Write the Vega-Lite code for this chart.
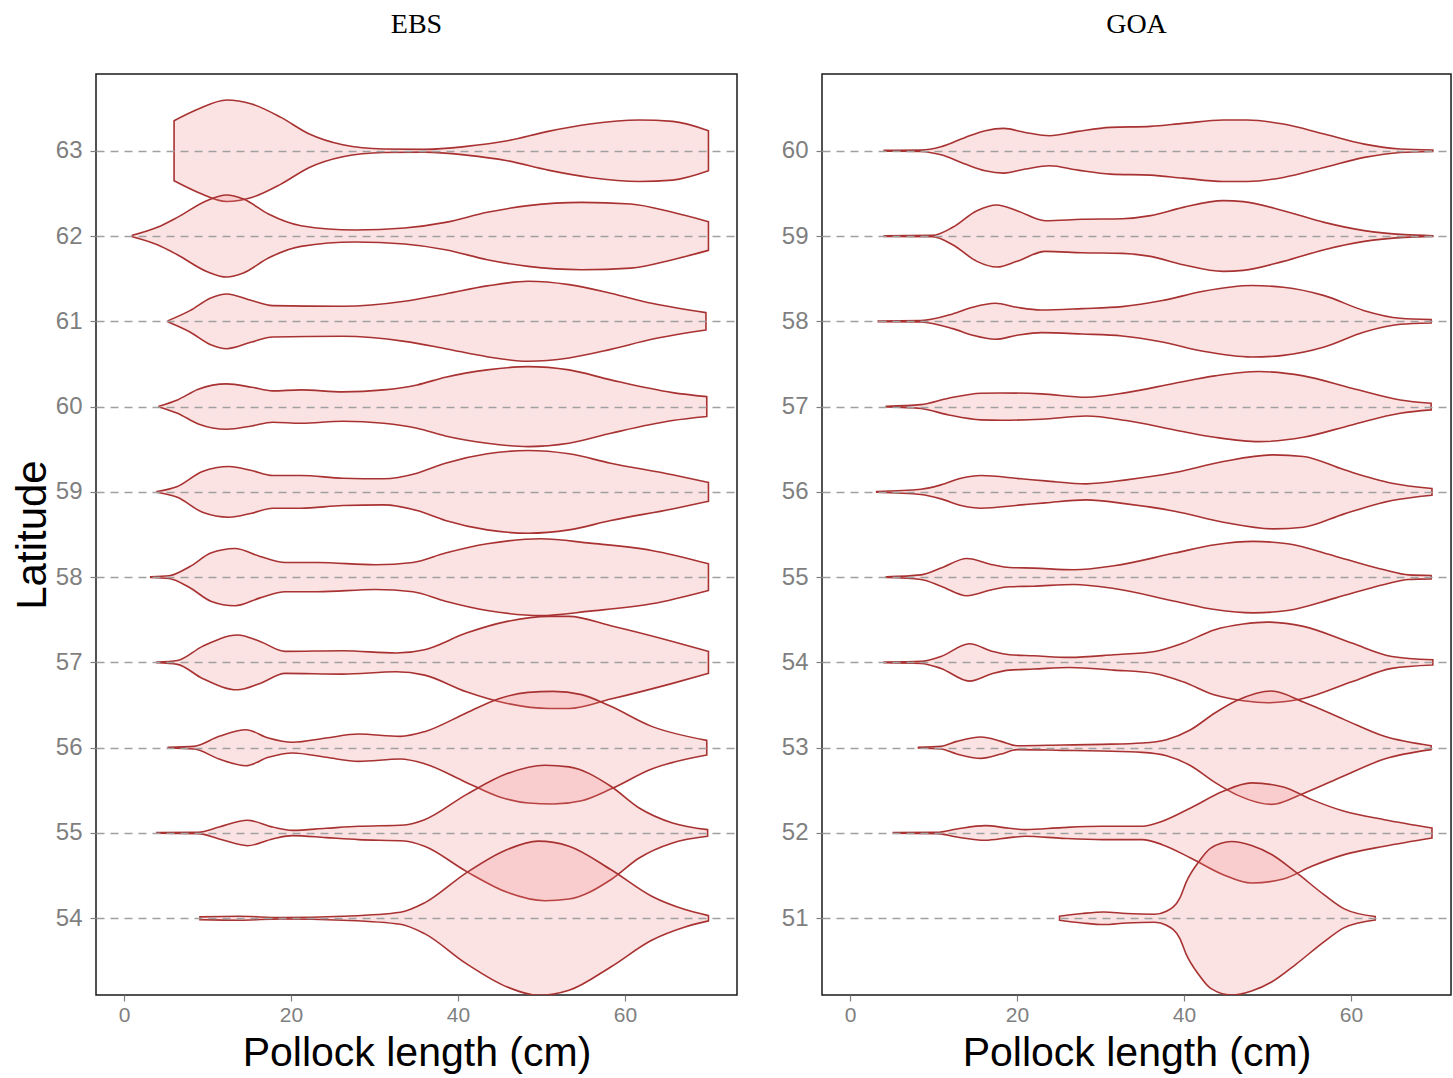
{
  "$schema": "https://vega.github.io/schema/vega-lite/v6.json",
  "background": "white",
  "padding": {"left": 10, "top": 10, "right": 0, "bottom": 0},
  "spacing": 42,
  "config": {
    "view": {"stroke": "#1a1a1a", "strokeWidth": 1.5},
    "font": "Liberation Sans",
    "axis": {
      "labelFont": "Liberation Sans", "labelFontSize": 24, "labelColor": "#7f7f7f",
      "tickColor": "#7f7f7f", "tickSize": 6, "tickWidth": 1.2, "labelPadding": 6,
      "titleFont": "Liberation Sans", "titleFontSize": 42, "titleFontWeight": "normal", "titleColor": "#000000",
      "domain": false
    },
    "axisX": {"labelFontSize": 21, "labelPadding": 3, "titlePadding": 8, "titleFontSize": 41},
    "title": {"font": "Liberation Serif", "fontSize": 28, "fontWeight": "normal", "color": "#000000", "offset": 35, "anchor": "middle"}
  },
  "datasets": {
    "ebs": [
      {"lat":63,"x":6.0,"lo":62.648,"hi":63.352},{"lat":63,"x":8.9,"lo":62.511,"hi":63.489},{"lat":63,"x":12.3,"lo":62.405,"hi":63.595},{"lat":63,"x":15.3,"lo":62.452,"hi":63.548},{"lat":63,"x":18.8,"lo":62.609,"hi":63.391},{"lat":63,"x":22.2,"lo":62.804,"hi":63.196},{"lat":63,"x":26.2,"lo":62.930,"hi":63.070},{"lat":63,"x":31.1,"lo":62.980,"hi":63.020},{"lat":63,"x":36.0,"lo":62.984,"hi":63.016},{"lat":63,"x":41.0,"lo":62.949,"hi":63.051},{"lat":63,"x":45.9,"lo":62.883,"hi":63.117},{"lat":63,"x":50.8,"lo":62.773,"hi":63.227},{"lat":63,"x":55.8,"lo":62.687,"hi":63.313},{"lat":63,"x":61.7,"lo":62.640,"hi":63.360},{"lat":63,"x":65.7,"lo":62.656,"hi":63.344},{"lat":63,"x":70.0,"lo":62.765,"hi":63.235},
      {"lat":62,"x":1.0,"lo":61.992,"hi":62.008},{"lat":62,"x":4.0,"lo":61.898,"hi":62.102},{"lat":62,"x":6.4,"lo":61.781,"hi":62.219},{"lat":62,"x":9.9,"lo":61.585,"hi":62.415},{"lat":62,"x":12.3,"lo":61.519,"hi":62.481},{"lat":62,"x":14.3,"lo":61.566,"hi":62.434},{"lat":62,"x":17.3,"lo":61.742,"hi":62.258},{"lat":62,"x":21.2,"lo":61.879,"hi":62.121},{"lat":62,"x":27.7,"lo":61.930,"hi":62.070},{"lat":62,"x":33.6,"lo":61.906,"hi":62.094},{"lat":62,"x":38.5,"lo":61.840,"hi":62.160},{"lat":62,"x":43.5,"lo":61.722,"hi":62.278},{"lat":62,"x":48.4,"lo":61.644,"hi":62.356},{"lat":62,"x":54.8,"lo":61.605,"hi":62.395},{"lat":62,"x":60.7,"lo":61.624,"hi":62.376},{"lat":62,"x":65.7,"lo":61.722,"hi":62.278},{"lat":62,"x":70.0,"lo":61.832,"hi":62.168},
      {"lat":61,"x":5.3,"lo":60.992,"hi":61.008},{"lat":61,"x":7.9,"lo":60.875,"hi":61.125},{"lat":61,"x":10.4,"lo":60.726,"hi":61.274},{"lat":61,"x":12.3,"lo":60.679,"hi":61.321},{"lat":61,"x":15.3,"lo":60.757,"hi":61.243},{"lat":61,"x":17.8,"lo":60.816,"hi":61.184},{"lat":61,"x":26.2,"lo":60.824,"hi":61.176},{"lat":61,"x":33.6,"lo":60.765,"hi":61.235},{"lat":61,"x":38.5,"lo":60.679,"hi":61.321},{"lat":61,"x":43.5,"lo":60.585,"hi":61.415},{"lat":61,"x":48.4,"lo":60.531,"hi":61.469},{"lat":61,"x":53.3,"lo":60.570,"hi":61.430},{"lat":61,"x":58.3,"lo":60.671,"hi":61.329},{"lat":61,"x":63.2,"lo":60.789,"hi":61.211},{"lat":61,"x":69.7,"lo":60.898,"hi":61.102},
      {"lat":60,"x":4.2,"lo":59.996,"hi":60.004},{"lat":60,"x":6.4,"lo":59.922,"hi":60.078},{"lat":60,"x":8.9,"lo":59.797,"hi":60.203},{"lat":60,"x":12.3,"lo":59.734,"hi":60.266},{"lat":60,"x":15.3,"lo":59.773,"hi":60.227},{"lat":60,"x":17.8,"lo":59.816,"hi":60.184},{"lat":60,"x":21.2,"lo":59.804,"hi":60.196},{"lat":60,"x":26.2,"lo":59.828,"hi":60.172},{"lat":60,"x":31.1,"lo":59.804,"hi":60.196},{"lat":60,"x":35.1,"lo":59.746,"hi":60.254},{"lat":60,"x":38.5,"lo":59.656,"hi":60.344},{"lat":60,"x":43.5,"lo":59.570,"hi":60.430},{"lat":60,"x":48.4,"lo":59.531,"hi":60.469},{"lat":60,"x":53.3,"lo":59.570,"hi":60.430},{"lat":60,"x":58.3,"lo":59.687,"hi":60.313},{"lat":60,"x":65.7,"lo":59.836,"hi":60.164},{"lat":60,"x":69.8,"lo":59.883,"hi":60.117},
      {"lat":59,"x":3.95,"lo":58.996,"hi":59.004},{"lat":59,"x":6.4,"lo":58.937,"hi":59.063},{"lat":59,"x":9.4,"lo":58.761,"hi":59.239},{"lat":59,"x":12.6,"lo":58.703,"hi":59.297},{"lat":59,"x":15.3,"lo":58.750,"hi":59.250},{"lat":59,"x":17.8,"lo":58.808,"hi":59.192},{"lat":59,"x":21.2,"lo":58.808,"hi":59.192},{"lat":59,"x":26.2,"lo":58.840,"hi":59.160},{"lat":59,"x":31.1,"lo":58.847,"hi":59.153},{"lat":59,"x":35.1,"lo":58.781,"hi":59.219},{"lat":59,"x":38.5,"lo":58.664,"hi":59.336},{"lat":59,"x":43.5,"lo":58.554,"hi":59.446},{"lat":59,"x":48.4,"lo":58.515,"hi":59.485},{"lat":59,"x":53.3,"lo":58.554,"hi":59.446},{"lat":59,"x":58.3,"lo":58.664,"hi":59.336},{"lat":59,"x":65.7,"lo":58.800,"hi":59.200},{"lat":59,"x":70.0,"lo":58.890,"hi":59.110},
      {"lat":58,"x":3.2,"lo":57.996,"hi":58.004},{"lat":58,"x":5.4,"lo":57.984,"hi":58.016},{"lat":58,"x":7.9,"lo":57.875,"hi":58.125},{"lat":58,"x":10.4,"lo":57.718,"hi":58.282},{"lat":58,"x":13.3,"lo":57.664,"hi":58.336},{"lat":58,"x":16.3,"lo":57.757,"hi":58.243},{"lat":58,"x":19.3,"lo":57.828,"hi":58.172},{"lat":58,"x":23.2,"lo":57.828,"hi":58.172},{"lat":58,"x":30.1,"lo":57.855,"hi":58.145},{"lat":58,"x":34.6,"lo":57.828,"hi":58.172},{"lat":58,"x":38.5,"lo":57.718,"hi":58.282},{"lat":58,"x":43.5,"lo":57.609,"hi":58.391},{"lat":58,"x":49.9,"lo":57.550,"hi":58.450},{"lat":58,"x":55.8,"lo":57.601,"hi":58.399},{"lat":58,"x":63.2,"lo":57.687,"hi":58.313},{"lat":58,"x":70.0,"lo":57.844,"hi":58.156},
      {"lat":57,"x":3.95,"lo":56.996,"hi":57.004},{"lat":57,"x":6.4,"lo":56.977,"hi":57.023},{"lat":57,"x":9.4,"lo":56.812,"hi":57.188},{"lat":57,"x":13.6,"lo":56.679,"hi":57.321},{"lat":57,"x":16.3,"lo":56.754,"hi":57.246},{"lat":57,"x":19.3,"lo":56.871,"hi":57.129},{"lat":57,"x":26.2,"lo":56.863,"hi":57.137},{"lat":57,"x":32.6,"lo":56.890,"hi":57.110},{"lat":57,"x":36.0,"lo":56.851,"hi":57.149},{"lat":57,"x":41.0,"lo":56.656,"hi":57.344},{"lat":57,"x":45.9,"lo":56.519,"hi":57.481},{"lat":57,"x":50.9,"lo":56.460,"hi":57.540},{"lat":57,"x":53.3,"lo":56.460,"hi":57.540},{"lat":57,"x":58.3,"lo":56.570,"hi":57.430},{"lat":57,"x":65.7,"lo":56.754,"hi":57.246},{"lat":57,"x":70.0,"lo":56.871,"hi":57.129},
      {"lat":56,"x":5.3,"lo":55.996,"hi":56.004},{"lat":56,"x":8.4,"lo":55.984,"hi":56.016},{"lat":56,"x":11.4,"lo":55.867,"hi":56.133},{"lat":56,"x":14.6,"lo":55.789,"hi":56.211},{"lat":56,"x":17.3,"lo":55.887,"hi":56.113},{"lat":56,"x":20.2,"lo":55.937,"hi":56.063},{"lat":56,"x":24.2,"lo":55.887,"hi":56.113},{"lat":56,"x":28.1,"lo":55.840,"hi":56.160},{"lat":56,"x":33.1,"lo":55.867,"hi":56.133},{"lat":56,"x":36.0,"lo":55.812,"hi":56.188},{"lat":56,"x":41.0,"lo":55.593,"hi":56.407},{"lat":56,"x":44.9,"lo":55.425,"hi":56.575},{"lat":56,"x":48.4,"lo":55.351,"hi":56.649},{"lat":56,"x":51.4,"lo":55.339,"hi":56.661},{"lat":56,"x":54.8,"lo":55.378,"hi":56.622},{"lat":56,"x":58.3,"lo":55.515,"hi":56.485},{"lat":56,"x":63.2,"lo":55.750,"hi":56.250},{"lat":56,"x":69.8,"lo":55.914,"hi":56.086},
      {"lat":55,"x":3.95,"lo":54.996,"hi":55.004},{"lat":55,"x":8.9,"lo":54.992,"hi":55.008},{"lat":55,"x":11.4,"lo":54.930,"hi":55.070},{"lat":55,"x":14.8,"lo":54.851,"hi":55.149},{"lat":55,"x":17.8,"lo":54.930,"hi":55.070},{"lat":55,"x":20.2,"lo":54.969,"hi":55.031},{"lat":55,"x":24.2,"lo":54.945,"hi":55.055},{"lat":55,"x":28.1,"lo":54.922,"hi":55.078},{"lat":55,"x":33.6,"lo":54.906,"hi":55.094},{"lat":55,"x":36.0,"lo":54.844,"hi":55.156},{"lat":55,"x":41.0,"lo":54.550,"hi":55.450},{"lat":55,"x":45.9,"lo":54.304,"hi":55.696},{"lat":55,"x":50.4,"lo":54.206,"hi":55.794},{"lat":55,"x":53.3,"lo":54.225,"hi":55.775},{"lat":55,"x":58.3,"lo":54.452,"hi":55.548},{"lat":55,"x":61.7,"lo":54.707,"hi":55.293},{"lat":55,"x":65.7,"lo":54.883,"hi":55.117},{"lat":55,"x":69.9,"lo":54.961,"hi":55.039},
      {"lat":54,"x":9.1,"lo":53.984,"hi":54.016},{"lat":54,"x":13.8,"lo":53.977,"hi":54.023},{"lat":54,"x":18.8,"lo":53.992,"hi":54.008},{"lat":54,"x":26.2,"lo":53.977,"hi":54.023},{"lat":54,"x":33.1,"lo":53.930,"hi":54.070},{"lat":54,"x":36.0,"lo":53.820,"hi":54.180},{"lat":54,"x":41.0,"lo":53.468,"hi":54.532},{"lat":54,"x":45.9,"lo":53.194,"hi":54.806},{"lat":54,"x":49.6,"lo":53.096,"hi":54.904},{"lat":54,"x":53.3,"lo":53.155,"hi":54.845},{"lat":54,"x":58.3,"lo":53.429,"hi":54.571},{"lat":54,"x":63.2,"lo":53.742,"hi":54.258},{"lat":54,"x":67.2,"lo":53.898,"hi":54.102},{"lat":54,"x":70.0,"lo":53.969,"hi":54.031}
    ],
    "goa": [
      {"lat":60,"x":4.1,"lo":59.996,"hi":60.004},{"lat":60,"x":8.5,"lo":59.992,"hi":60.008},{"lat":60,"x":10.9,"lo":59.953,"hi":60.047},{"lat":60,"x":13.8,"lo":59.844,"hi":60.156},{"lat":60,"x":16.2,"lo":59.765,"hi":60.235},{"lat":60,"x":18.4,"lo":59.738,"hi":60.262},{"lat":60,"x":21.0,"lo":59.785,"hi":60.215},{"lat":60,"x":23.9,"lo":59.824,"hi":60.176},{"lat":60,"x":27.3,"lo":59.773,"hi":60.227},{"lat":60,"x":31.2,"lo":59.726,"hi":60.274},{"lat":60,"x":36.0,"lo":59.714,"hi":60.286},{"lat":60,"x":39.9,"lo":59.679,"hi":60.321},{"lat":60,"x":44.7,"lo":59.640,"hi":60.360},{"lat":60,"x":47.6,"lo":59.640,"hi":60.360},{"lat":60,"x":51.9,"lo":59.687,"hi":60.313},{"lat":60,"x":56.8,"lo":59.804,"hi":60.196},{"lat":60,"x":61.6,"lo":59.922,"hi":60.078},{"lat":60,"x":65.9,"lo":59.980,"hi":60.020},{"lat":60,"x":69.8,"lo":59.992,"hi":60.008},
      {"lat":59,"x":4.1,"lo":58.996,"hi":59.004},{"lat":59,"x":9.9,"lo":58.992,"hi":59.008},{"lat":59,"x":12.3,"lo":58.898,"hi":59.102},{"lat":59,"x":15.2,"lo":58.703,"hi":59.297},{"lat":59,"x":17.6,"lo":58.636,"hi":59.364},{"lat":59,"x":20.0,"lo":58.703,"hi":59.297},{"lat":59,"x":23.4,"lo":58.820,"hi":59.180},{"lat":59,"x":27.8,"lo":58.804,"hi":59.196},{"lat":59,"x":32.6,"lo":58.797,"hi":59.203},{"lat":59,"x":36.0,"lo":58.761,"hi":59.239},{"lat":59,"x":39.9,"lo":58.664,"hi":59.336},{"lat":59,"x":44.7,"lo":58.585,"hi":59.415},{"lat":59,"x":47.1,"lo":58.597,"hi":59.403},{"lat":59,"x":51.9,"lo":58.703,"hi":59.297},{"lat":59,"x":56.8,"lo":58.840,"hi":59.160},{"lat":59,"x":61.6,"lo":58.937,"hi":59.063},{"lat":59,"x":66.4,"lo":58.984,"hi":59.016},{"lat":59,"x":69.8,"lo":58.996,"hi":59.004},
      {"lat":58,"x":3.4,"lo":57.996,"hi":58.004},{"lat":58,"x":8.5,"lo":57.992,"hi":58.008},{"lat":58,"x":12.3,"lo":57.914,"hi":58.086},{"lat":58,"x":14.7,"lo":57.836,"hi":58.164},{"lat":58,"x":17.4,"lo":57.789,"hi":58.211},{"lat":58,"x":20.0,"lo":57.836,"hi":58.164},{"lat":58,"x":22.9,"lo":57.867,"hi":58.133},{"lat":58,"x":27.8,"lo":57.851,"hi":58.149},{"lat":58,"x":32.6,"lo":57.828,"hi":58.172},{"lat":58,"x":37.4,"lo":57.757,"hi":58.243},{"lat":58,"x":42.3,"lo":57.648,"hi":58.352},{"lat":58,"x":48.1,"lo":57.581,"hi":58.419},{"lat":58,"x":51.9,"lo":57.601,"hi":58.399},{"lat":58,"x":56.8,"lo":57.699,"hi":58.301},{"lat":58,"x":61.6,"lo":57.875,"hi":58.125},{"lat":58,"x":65.9,"lo":57.965,"hi":58.035},{"lat":58,"x":69.6,"lo":57.980,"hi":58.020},
      {"lat":57,"x":4.35,"lo":56.996,"hi":57.004},{"lat":57,"x":8.5,"lo":56.977,"hi":57.023},{"lat":57,"x":11.8,"lo":56.902,"hi":57.098},{"lat":57,"x":15.7,"lo":56.844,"hi":57.156},{"lat":57,"x":18.1,"lo":56.840,"hi":57.160},{"lat":57,"x":22.9,"lo":56.851,"hi":57.149},{"lat":57,"x":28.3,"lo":56.890,"hi":57.110},{"lat":57,"x":33.1,"lo":56.836,"hi":57.164},{"lat":57,"x":38.9,"lo":56.726,"hi":57.274},{"lat":57,"x":43.7,"lo":56.640,"hi":57.360},{"lat":57,"x":49.0,"lo":56.589,"hi":57.411},{"lat":57,"x":54.3,"lo":56.640,"hi":57.360},{"lat":57,"x":60.1,"lo":56.785,"hi":57.215},{"lat":57,"x":65.9,"lo":56.922,"hi":57.078},{"lat":57,"x":69.6,"lo":56.961,"hi":57.039},
      {"lat":56,"x":3.2,"lo":55.996,"hi":56.004},{"lat":56,"x":8.5,"lo":55.969,"hi":56.031},{"lat":56,"x":10.9,"lo":55.918,"hi":56.082},{"lat":56,"x":13.3,"lo":55.840,"hi":56.160},{"lat":56,"x":15.7,"lo":55.808,"hi":56.192},{"lat":56,"x":20.5,"lo":55.847,"hi":56.153},{"lat":56,"x":23.4,"lo":55.871,"hi":56.129},{"lat":56,"x":28.3,"lo":55.906,"hi":56.094},{"lat":56,"x":33.1,"lo":55.859,"hi":56.141},{"lat":56,"x":38.9,"lo":55.773,"hi":56.227},{"lat":56,"x":44.7,"lo":55.644,"hi":56.356},{"lat":56,"x":50.7,"lo":55.566,"hi":56.434},{"lat":56,"x":54.3,"lo":55.585,"hi":56.415},{"lat":56,"x":59.2,"lo":55.742,"hi":56.258},{"lat":56,"x":64.9,"lo":55.898,"hi":56.102},{"lat":56,"x":69.7,"lo":55.961,"hi":56.039},
      {"lat":55,"x":4.35,"lo":54.996,"hi":55.004},{"lat":55,"x":8.5,"lo":54.973,"hi":55.027},{"lat":55,"x":10.9,"lo":54.894,"hi":55.106},{"lat":55,"x":14.0,"lo":54.781,"hi":55.219},{"lat":55,"x":17.1,"lo":54.855,"hi":55.145},{"lat":55,"x":19.1,"lo":54.887,"hi":55.113},{"lat":55,"x":22.0,"lo":54.894,"hi":55.106},{"lat":55,"x":26.8,"lo":54.914,"hi":55.086},{"lat":55,"x":31.6,"lo":54.867,"hi":55.133},{"lat":55,"x":38.9,"lo":54.718,"hi":55.282},{"lat":55,"x":43.7,"lo":54.620,"hi":55.380},{"lat":55,"x":48.3,"lo":54.581,"hi":55.419},{"lat":55,"x":52.4,"lo":54.609,"hi":55.391},{"lat":55,"x":58.2,"lo":54.757,"hi":55.243},{"lat":55,"x":64.0,"lo":54.914,"hi":55.086},{"lat":55,"x":66.9,"lo":54.973,"hi":55.027},{"lat":55,"x":69.6,"lo":54.980,"hi":55.020},
      {"lat":54,"x":4.1,"lo":53.996,"hi":54.004},{"lat":54,"x":8.5,"lo":53.988,"hi":54.012},{"lat":54,"x":10.9,"lo":53.930,"hi":54.070},{"lat":54,"x":14.3,"lo":53.781,"hi":54.219},{"lat":54,"x":17.1,"lo":53.871,"hi":54.129},{"lat":54,"x":19.1,"lo":53.910,"hi":54.090},{"lat":54,"x":22.0,"lo":53.922,"hi":54.078},{"lat":54,"x":26.3,"lo":53.941,"hi":54.059},{"lat":54,"x":31.6,"lo":53.910,"hi":54.090},{"lat":54,"x":36.5,"lo":53.871,"hi":54.129},{"lat":54,"x":39.9,"lo":53.773,"hi":54.227},{"lat":54,"x":43.7,"lo":53.617,"hi":54.383},{"lat":54,"x":47.1,"lo":53.550,"hi":54.450},{"lat":54,"x":50.0,"lo":53.527,"hi":54.473},{"lat":54,"x":54.3,"lo":53.577,"hi":54.423},{"lat":54,"x":60.1,"lo":53.773,"hi":54.227},{"lat":54,"x":64.9,"lo":53.930,"hi":54.070},{"lat":54,"x":69.8,"lo":53.969,"hi":54.031},
      {"lat":53,"x":8.2,"lo":52.996,"hi":53.004},{"lat":53,"x":10.9,"lo":52.984,"hi":53.016},{"lat":53,"x":12.8,"lo":52.926,"hi":53.074},{"lat":53,"x":15.7,"lo":52.875,"hi":53.125},{"lat":53,"x":18.1,"lo":52.926,"hi":53.074},{"lat":53,"x":20.0,"lo":52.977,"hi":53.023},{"lat":53,"x":25.4,"lo":52.969,"hi":53.031},{"lat":53,"x":30.2,"lo":52.961,"hi":53.039},{"lat":53,"x":35.0,"lo":52.945,"hi":53.055},{"lat":53,"x":37.9,"lo":52.906,"hi":53.094},{"lat":53,"x":40.8,"lo":52.789,"hi":53.211},{"lat":53,"x":43.7,"lo":52.593,"hi":53.407},{"lat":53,"x":46.4,"lo":52.444,"hi":53.556},{"lat":53,"x":50.5,"lo":52.335,"hi":53.665},{"lat":53,"x":54.3,"lo":52.464,"hi":53.536},{"lat":53,"x":59.2,"lo":52.671,"hi":53.329},{"lat":53,"x":64.0,"lo":52.867,"hi":53.133},{"lat":53,"x":69.6,"lo":52.977,"hi":53.023},
      {"lat":52,"x":5.2,"lo":51.996,"hi":52.004},{"lat":52,"x":10.4,"lo":51.992,"hi":52.008},{"lat":52,"x":12.8,"lo":51.953,"hi":52.047},{"lat":52,"x":16.2,"lo":51.914,"hi":52.086},{"lat":52,"x":19.1,"lo":51.945,"hi":52.055},{"lat":52,"x":21.0,"lo":51.961,"hi":52.039},{"lat":52,"x":25.4,"lo":51.937,"hi":52.063},{"lat":52,"x":30.2,"lo":51.922,"hi":52.078},{"lat":52,"x":35.0,"lo":51.922,"hi":52.078},{"lat":52,"x":37.4,"lo":51.863,"hi":52.137},{"lat":52,"x":40.8,"lo":51.707,"hi":52.293},{"lat":52,"x":44.7,"lo":51.511,"hi":52.489},{"lat":52,"x":48.1,"lo":51.413,"hi":52.587},{"lat":52,"x":51.9,"lo":51.460,"hi":52.540},{"lat":52,"x":55.3,"lo":51.609,"hi":52.391},{"lat":52,"x":59.2,"lo":51.746,"hi":52.254},{"lat":52,"x":64.0,"lo":51.844,"hi":52.156},{"lat":52,"x":69.7,"lo":51.941,"hi":52.059},
      {"lat":51,"x":25.1,"lo":50.977,"hi":51.023},{"lat":51,"x":27.8,"lo":50.945,"hi":51.055},{"lat":51,"x":30.4,"lo":50.926,"hi":51.074},{"lat":51,"x":33.1,"lo":50.945,"hi":51.055},{"lat":51,"x":36.5,"lo":50.953,"hi":51.047},{"lat":51,"x":37.9,"lo":50.918,"hi":51.082},{"lat":51,"x":39.5,"lo":50.765,"hi":51.235},{"lat":51,"x":40.3,"lo":50.570,"hi":51.430},{"lat":51,"x":41.8,"lo":50.335,"hi":51.665},{"lat":51,"x":43.2,"lo":50.178,"hi":51.822},{"lat":51,"x":45.7,"lo":50.100,"hi":51.900},{"lat":51,"x":48.1,"lo":50.147,"hi":51.853},{"lat":51,"x":50.5,"lo":50.253,"hi":51.747},{"lat":51,"x":53.4,"lo":50.460,"hi":51.540},{"lat":51,"x":56.8,"lo":50.726,"hi":51.274},{"lat":51,"x":59.2,"lo":50.890,"hi":51.110},{"lat":51,"x":62.9,"lo":50.980,"hi":51.020}
    ]
  },
  "hconcat": [
    {
      "title": "EBS",
      "width": 641,
      "height": 921,
      "data": {"name": "ebs"},
      "mark": {"type": "area", "orient": "vertical", "interpolate": "monotone", "fill": "#f08080", "fillOpacity": 0.22, "stroke": "#a83232", "strokeWidth": 1.6, "clip": true},
      "encoding": {
        "x": {"field": "x", "type": "quantitative", "scale": {"domain": [-3.35, 73.42], "nice": false, "zero": false},
              "axis": {"values": [0, 20, 40, 60], "title": "Pollock length (cm)", "grid": false}},
        "y": {"field": "hi", "type": "quantitative", "scale": {"domain": [53.1, 63.9], "nice": false, "zero": false},
              "axis": {"values": [54, 55, 56, 57, 58, 59, 60, 61, 62, 63], "title": "Latitude", "grid": true, "gridDash": [8, 6], "gridColor": "#a0a0a0", "gridWidth": 1.5, "zindex": 1, "labelPadding": 8, "titlePadding": 1}},
        "y2": {"field": "lo"},
        "detail": {"field": "lat", "type": "nominal"}
      }
    },
    {
      "title": "GOA",
      "width": 629,
      "height": 921,
      "data": {"name": "goa"},
      "mark": {"type": "area", "orient": "vertical", "interpolate": "monotone", "fill": "#f08080", "fillOpacity": 0.22, "stroke": "#a83232", "strokeWidth": 1.6, "clip": true},
      "encoding": {
        "x": {"field": "x", "type": "quantitative", "scale": {"domain": [-3.35, 71.98], "nice": false, "zero": false},
              "axis": {"values": [0, 20, 40, 60], "title": "Pollock length (cm)", "grid": false}},
        "y": {"field": "hi", "type": "quantitative", "scale": {"domain": [50.1, 60.9], "nice": false, "zero": false},
              "axis": {"values": [51, 52, 53, 54, 55, 56, 57, 58, 59, 60], "title": null, "grid": true, "gridDash": [8, 6], "gridColor": "#a0a0a0", "gridWidth": 1.5, "zindex": 1, "labelPadding": 8}},
        "y2": {"field": "lo"},
        "detail": {"field": "lat", "type": "nominal"}
      }
    }
  ]
}
